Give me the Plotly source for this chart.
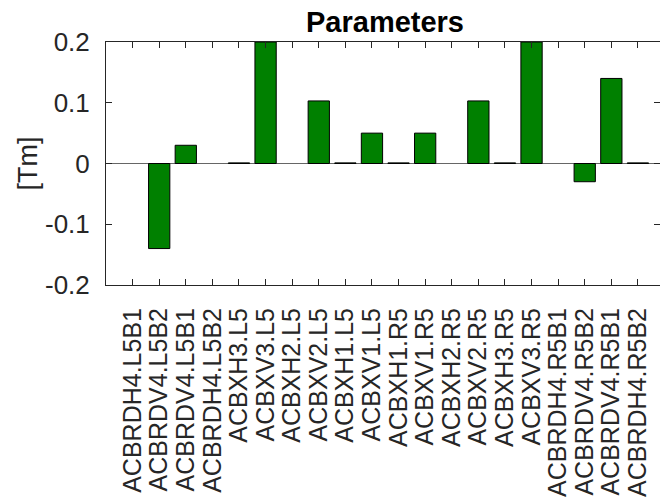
import plotly.graph_objects as go

# Corrector names and their strengths
magnets = [
    "ACBRDH4.L5B1", "ACBRDV4.L5B2", "ACBRDV4.L5B1", "ACBRDH4.L5B2",
    "ACBXH3.L5", "ACBXV3.L5", "ACBXH2.L5", "ACBXV2.L5", "ACBXH1.L5", "ACBXV1.L5",
    "ACBXH1.R5", "ACBXV1.R5", "ACBXH2.R5", "ACBXV2.R5", "ACBXH3.R5", "ACBXV3.R5",
    "ACBRDH4.R5B1", "ACBRDV4.R5B2", "ACBRDV4.R5B1", "ACBRDH4.R5B2",
]
strength_tm = [
    0.0, -0.14, 0.03, 0.0,
    0.001, 0.2, 0.0, 0.103, 0.001, 0.05,
    0.001, 0.05, 0.0, 0.103, 0.001, 0.2,
    0.0, -0.03, 0.14, 0.001,
]
y_ticks = [-0.2, -0.1, 0, 0.1, 0.2]
y_tick_text = ["-0.2", "-0.1", "0", "0.1", "0.2"]

FONT = "Liberation Sans, Arial, Helvetica, sans-serif"
AXIS_GREY = "#262626"
BASELINE_GREY = "#666666"

MARGIN_L, MARGIN_R, MARGIN_T, MARGIN_B = 106, 0, 42, 217
FIG_W, FIG_H = 660, 502
plot_w = FIG_W - MARGIN_L - MARGIN_R

idx = list(range(len(magnets)))
# zero-height bars blend into the baseline
edge_colors = [BASELINE_GREY if v == 0 else "#000000" for v in strength_tm]

fig = go.Figure()
fig.add_trace(go.Bar(
    x=idx,
    y=strength_tm,
    width=0.8,
    marker=dict(color="#008000", line=dict(color=edge_colors, width=1)),
    showlegend=False,
))
# invisible trace carrying the right-hand tick marks
fig.add_trace(go.Scatter(x=[idx[0]], y=[0], yaxis="y2", mode="markers",
                         marker=dict(opacity=0), showlegend=False, hoverinfo="skip"))

fig.update_layout(
    width=FIG_W,
    height=FIG_H,
    margin=dict(l=MARGIN_L, r=MARGIN_R, t=MARGIN_T, b=MARGIN_B, autoexpand=False),
    paper_bgcolor="white",
    plot_bgcolor="white",
    font=dict(family=FONT, color=AXIS_GREY),
    title=dict(
        text="<b>Parameters</b>",
        font=dict(family=FONT, size=29, color="#000000"),
        x=(106 + 664) / 2 / FIG_W,
        xanchor="center",
        xref="container",
        yref="container",
        y=1 - 22 / FIG_H,
        yanchor="middle",
    ),
    xaxis=dict(
        range=[-1, 19.83],
        tickmode="array",
        tickvals=idx,
        ticktext=magnets,
        tickangle=-90,
        tickfont=dict(size=25, color=AXIS_GREY),
        ticks="inside",
        ticklen=6,
        tickcolor=AXIS_GREY,
        showline=True,
        linecolor=AXIS_GREY,
        linewidth=1,
        mirror="ticks",
        showgrid=False,
        zeroline=False,
        automargin=False,
        ticklabelstandoff=12,
    ),
    yaxis=dict(
        range=[-0.2, 0.2],
        tickmode="array",
        tickvals=y_ticks,
        ticktext=y_tick_text,
        tickfont=dict(size=26, color=AXIS_GREY),
        ticks="inside",
        ticklen=6,
        tickcolor=AXIS_GREY,
        showline=True,
        linecolor=AXIS_GREY,
        linewidth=1,
        mirror=False,
        showgrid=False,
        zeroline=True,
        zerolinecolor=BASELINE_GREY,
        zerolinewidth=1,
        automargin=False,
        ticklabelstandoff=10,
    ),
    yaxis2=dict(
        overlaying="y",
        side="right",
        range=[-0.2, 0.2],
        tickmode="array",
        tickvals=y_ticks,
        showticklabels=False,
        ticks="inside",
        ticklen=6,
        tickcolor=AXIS_GREY,
        showline=False,
        showgrid=False,
        zeroline=False,
        automargin=False,
    ),
)

# y-axis label
fig.add_annotation(
    text="[Tm]",
    textangle=-90,
    xref="paper", yref="paper",
    x=(27 - MARGIN_L) / plot_w, y=0.5,
    xanchor="center", yanchor="middle",
    showarrow=False,
    font=dict(family=FONT, size=27, color=AXIS_GREY),
)

fig.write_html("out.html")
